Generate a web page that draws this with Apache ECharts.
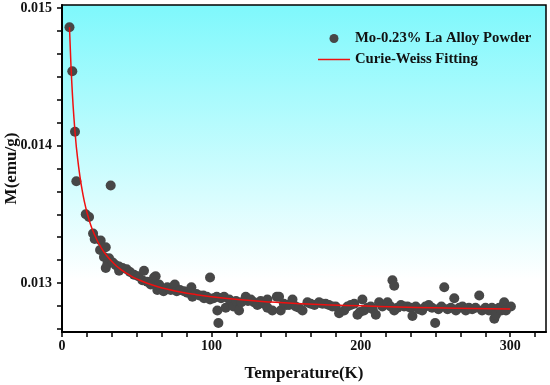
<!DOCTYPE html>
<html><head><meta charset="utf-8">
<script src="https://cdn.jsdelivr.net/npm/echarts@6/dist/echarts.min.js"></script>
<style>html,body{margin:0;padding:0;background:#fff}#c{width:550px;height:385px}</style>
</head><body><div id="c"></div>
<script>
// Measured data: temperature (K) and magnetization M (emu/g)
const scatterT = [5.0,6.9,8.7,9.6,15.9,18.1,20.8,21.9,25.5,25.9,28.1,29.3,29.3,30.4,31.5,32.6,34,36,38.2,38.2,40.5,43.3,45.5,48.2,51,53.8,54.9,57,59.4,61.6,62.7,63.8,65,66.1,68,70.5,72.8,75.5,76.8,79,81.7,83.9,86.6,87.3,90,92,94.6,95.1,97,99.1,99.1,101.5,103.6,104,104.7,106.5,108.5,109.6,112,114.7,116.5,118.5,120.1,123,124.5,126.4,128.5,130.8,133,135,137.5,137.5,140.8,143.8,145.3,146.4,148.5,150,152,154.3,156.5,158.7,161,164.3,166.5,169,172.1,174.3,176.5,178.7,181,183.2,185.5,188.9,191.1,193.3,195.6,197.8,199.5,201.1,202.2,204.5,206.7,208,210.1,212.3,214.5,217.9,220,221.2,222.4,222.4,224.6,226.9,229,231.3,233.5,234.6,236.8,238.9,241.1,243.3,245.5,247.7,249.8,252,254,255.9,258.1,260.3,262.6,263.7,266,268.1,270.3,272.4,274.6,276.8,279.3,281.2,283.5,285.8,287.8,289.4,290.5,292.6,294,296,297.2,300.5];
const scatterM = [0.01486,0.01454,0.01410,0.01374,0.01350,0.01348,0.01336,0.01332,0.01324,0.01331,0.01319,0.01326,0.01311,0.01314,0.01318,0.01371,0.01315,0.01313,0.01312,0.01309,0.01311,0.01310,0.01308,0.01306,0.01305,0.01302,0.01309,0.01301,0.01299,0.01304,0.01305,0.01295,0.01299,0.01297,0.01294,0.01297,0.01295,0.01299,0.01294,0.01295,0.01294,0.01293,0.01297,0.01290,0.01292,0.01291,0.01291,0.01289,0.01290,0.01304,0.01288,0.01289,0.01290,0.01280,0.01271,0.01289,0.01290,0.01282,0.01288,0.01283,0.01287,0.01280,0.01286,0.01290,0.01287,0.01288,0.01286,0.01284,0.01287,0.01285,0.01288,0.01282,0.01280,0.01290,0.01290,0.01280,0.01285,0.01284,0.01284,0.01288,0.01283,0.01282,0.01280,0.01286,0.01285,0.01284,0.01286,0.01285,0.01285,0.01284,0.01283,0.01283,0.01278,0.01280,0.01283,0.01284,0.01285,0.01277,0.01279,0.01288,0.01280,0.01282,0.01283,0.01281,0.01277,0.01286,0.01283,0.01286,0.01283,0.01302,0.01298,0.01280,0.01282,0.01284,0.01283,0.01283,0.01282,0.01276,0.01283,0.01281,0.01280,0.01283,0.01284,0.01282,0.01271,0.01281,0.01283,0.01297,0.01281,0.01282,0.01289,0.01280,0.01282,0.01283,0.01280,0.01282,0.01281,0.01282,0.01291,0.01280,0.01282,0.01280,0.01282,0.01274,0.01277,0.01282,0.01280,0.01286,0.01280,0.01283];
// Curie-Weiss fitting curve
const fitT = [5,6,7,8,9,10,12,14,16,18,20,23,26,30,35,40,45,50,60,70,80,90,100,120,140,160,180,200,225,250,275,300];
const fitM = [0.014861,0.014582,0.014368,0.014200,0.014063,0.013950,0.013775,0.013645,0.013544,0.013464,0.013399,0.013322,0.013261,0.013198,0.013139,0.013094,0.013059,0.013030,0.012987,0.012957,0.012933,0.012915,0.012900,0.012878,0.012862,0.012850,0.012841,0.012834,0.012826,0.012820,0.012815,0.012811];
const xTickLabels = [0,100,200,300];
const yTickLabels = [0.013,0.014,0.015];
const seriesNames = ['Mo-0.23% La Alloy Powder','Curie-Weiss Fitting'];

const xTicks = []; for (let i=0;i<=19;i++) xTicks.push(i*100/6);
const yTicks = []; for (let k=-2;k<=12;k++) yTicks.push(0.013 + k*0.001/6);

const font = 'Liberation Serif';
const chart = echarts.init(document.getElementById('c'));
chart.setOption({
  animation:false,
  backgroundColor:'#ffffff',
  grid:{left:62,right:4,top:5,bottom:53,containLabel:false,outerBoundsMode:'none',show:true,borderColor:'#000',borderWidth:1.5,
    backgroundColor:{type:'linear',x:0,y:0,x2:0,y2:1,colorStops:[{offset:0,color:'#7ef8fc'},{offset:0.84,color:'#ffffff'},{offset:1,color:'#ffffff'}]}},
  legend:{orient:'vertical',left:318,top:31,padding:0,itemWidth:32,itemHeight:9,itemGap:6,symbolKeepAspect:true,
    textStyle:{fontFamily:font,fontWeight:'bold',fontSize:14.7,color:'#111'},
    data:[{name:seriesNames[0],icon:'circle'},
          {name:seriesNames[1],icon:'path://M0,0 L32,0 L32,1.5 L0,1.5 Z'}]},
  xAxis:{type:'value',min:0,max:324,
    name:'Temperature(K)',nameLocation:'middle',nameGap:33,nameMoveOverlap:false,
    nameTextStyle:{fontFamily:font,fontWeight:'bold',fontSize:17,color:'#111'},
    axisLine:{lineStyle:{color:'#000',width:2}},
    axisTick:{inside:false,length:5,lineStyle:{color:'#000',width:1.5},customValues:xTicks},
    axisLabel:{margin:7,fontFamily:font,fontWeight:'bold',fontSize:14,color:'#111',customValues:xTickLabels},
    splitLine:{show:false}},
  yAxis:{type:'value',min:0.012644,max:0.015022,
    name:'M(emu/g)',nameLocation:'middle',nameGap:50,nameRotate:90,nameMoveOverlap:false,
    nameTextStyle:{fontFamily:font,fontWeight:'bold',fontSize:17,color:'#111',verticalAlign:'middle'},
    axisLine:{show:true,lineStyle:{color:'#000',width:2}},
    axisTick:{show:true,inside:false,length:5,lineStyle:{color:'#000',width:1.5},customValues:yTicks},
    axisLabel:{margin:10,fontFamily:font,fontWeight:'bold',fontSize:14,color:'#111',customValues:yTickLabels,
      formatter:v=>v.toFixed(3)},
    splitLine:{show:false}},
  series:[
    {name:seriesNames[0],type:'scatter',symbol:'circle',symbolSize:10,
      itemStyle:{color:'#474747',opacity:1},
      data:scatterT.map((t,i)=>[t,scatterM[i]]),z:2},
    {name:seriesNames[1],type:'line',symbol:'none',showSymbol:false,smooth:true,
      lineStyle:{color:'#f01010',width:1.5},itemStyle:{color:'#f01010'},
      data:fitT.map((t,i)=>[t,fitM[i]]),z:3}
  ]
});
</script></body></html>
